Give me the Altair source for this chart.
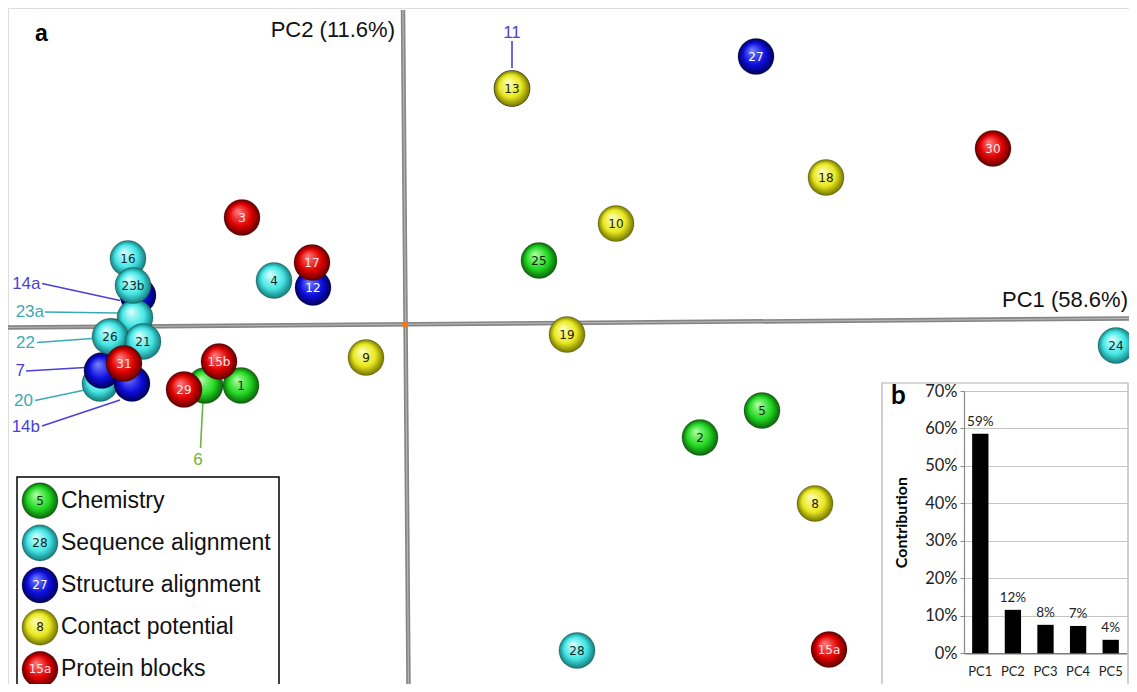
import altair as alt
import pandas as pd

# ---------------- data ----------------
group_names = ["Chemistry", "Sequence alignment", "Structure alignment",
               "Contact potential", "Protein blocks"]
legend_nums = ["5", "28", "27", "8", "15a"]

# drawing order = back to front
ids = ["11", "22", "14a", "20", "7", "14b", "6", "16", "23a", "23b",
       "26", "21", "31", "1", "29", "15b", "4", "12", "17", "3",
       "9", "13", "27", "30", "18", "10", "25", "19", "24", "5",
       "2", "8", "28", "15a"]
groups = ["Structure alignment", "Sequence alignment", "Structure alignment",
          "Sequence alignment", "Structure alignment", "Structure alignment",
          "Chemistry", "Sequence alignment", "Sequence alignment",
          "Sequence alignment", "Sequence alignment", "Sequence alignment",
          "Protein blocks", "Chemistry", "Protein blocks", "Protein blocks",
          "Sequence alignment", "Structure alignment", "Protein blocks",
          "Protein blocks", "Contact potential", "Contact potential",
          "Structure alignment", "Protein blocks", "Contact potential",
          "Contact potential", "Chemistry", "Contact potential",
          "Sequence alignment", "Chemistry", "Chemistry", "Contact potential",
          "Sequence alignment", "Protein blocks"]
pc1 = [1.07, -2.93, -2.67, -3.05, -3.03, -2.73, -2.00, -2.77, -2.70, -2.72,
       -2.95, -2.62, -2.81, -1.64, -2.21, -1.86, -1.31, -0.92, -0.93, -1.63,
       -0.39, 1.07, 3.51, 5.88, 4.21, 2.11, 1.34, 1.62, 7.11, 3.57,
       2.95, 4.10, 1.72, 4.24]
pc2 = [2.36, -0.12, 0.29, -0.59, -0.46, -0.59, -0.61, 0.66, 0.07, 0.39,
       -0.12, -0.17, -0.39, -0.61, -0.65, -0.37, 0.44, 0.37, 0.62, 1.07,
       -0.33, 2.36, 2.68, 1.76, 1.47, 1.01, 0.64, -0.10, -0.21, -0.86,
       -1.13, -1.79, -3.26, -3.25]

# call-out labels for hidden spheres
lead_ids = ["14a", "23a", "22", "7", "20", "14b", "6", "11"]
lead_groups = ["Structure alignment", "Sequence alignment", "Sequence alignment",
               "Structure alignment", "Sequence alignment", "Structure alignment",
               "Chemistry", "Structure alignment"]
lead_label_x = [-3.645, -3.61, -3.70, -3.80, -3.72, -3.65, -2.07, 1.07]
lead_label_y = [0.41, 0.13, -0.18, -0.465, -0.765, -1.02, -1.355, 2.92]
lead_x1 = [-3.63, -3.60, -3.68, -3.79, -3.70, -3.63, -2.045, 1.07]
lead_y1 = [0.41, 0.125, -0.18, -0.465, -0.76, -1.015, -1.235, 2.835]
lead_x2 = [-2.85, -2.87, -3.13, -3.20, -3.20, -2.85, -2.02, 1.07]
lead_y2 = [0.24, 0.115, -0.14, -0.43, -0.655, -0.755, -0.755, 2.565]
lead_side = ["left", "left", "left", "left", "left", "left", "mid", "mid"]

# inset: contribution of each component
pcs = ["PC1", "PC2", "PC3", "PC4", "PC5"]
contrib = [58.6, 11.6, 7.6, 7.3, 3.6]
contrib_labels = ["59%", "12%", "8%", "7%", "4%"]
contrib_ticks = [0, 10, 20, 30, 40, 50, 60, 70]

# ---------------- styling ----------------
main_c = ["#22d822", "#45e6e6", "#0d0ddc", "#e8e820", "#e00000"]
light_c = ["#b4ffa8", "#e0ffff", "#7884ff", "#ffffc0", "#ff8080"]
dark_c = ["#0b620b", "#147a7a", "#000058", "#747400", "#600000"]
num_c = ["#0b2a0b", "#0b2a2a", "#ffffff", "#222200", "#ffe8e8"]
lead_c = ["#6db33f", "#3aabb5", "#4b3fd9", "#999900", "#cc0000"]


def grad_js(light, main, dark):
    return ("{gradient:'radial',x1:0.38,y1:0.32,r1:0,x2:0.5,y2:0.5,r2:0.5,"
            "stops:[{offset:0,color:'" + light + "'},{offset:0.62,color:'" + main +
            "'},{offset:1,color:'" + dark + "'}]}")


GRAD = ""
for g, l, m, d in zip(group_names, light_c, main_c, dark_c):
    GRAD += "datum.grp==='" + g + "' ? " + grad_js(l, m, d) + " : "
GRAD += "'gray'"

W, H = 1121, 676
SPH = 1300

pts = pd.DataFrame({"id": ids, "grp": groups, "pc1": pc1, "pc2": pc2,
                    "ord": list(range(len(ids)))})
pts["inner"] = ~pts["id"].isin(lead_ids)
lead = pd.DataFrame({"id": lead_ids, "grp": lead_groups, "lx": lead_label_x,
                     "ly": lead_label_y, "x1": lead_x1, "y1": lead_y1,
                     "x2": lead_x2, "y2": lead_y2, "side": lead_side})
axes_df = pd.DataFrame({"x": [-3.97, -0.02], "x2": [7.24, 0.035],
                        "y": [-0.03, 3.145], "y2": [0.061, -3.595]})
origin = pd.DataFrame({"x": [0.0], "y": [0.0]})
one = pd.DataFrame({"k": [0]})

xs = alt.Scale(domain=[-3.97, 7.24], nice=False, zero=False)
ys = alt.Scale(domain=[-3.595, 3.165], nice=False, zero=False)

axis_thick = alt.Chart(axes_df).mark_rule(color="#858585", strokeWidth=4.5).encode(
    x=alt.X("x:Q", scale=xs, axis=None), x2="x2:Q",
    y=alt.Y("y:Q", scale=ys, axis=None), y2="y2:Q")
axis_thin = alt.Chart(axes_df).mark_rule(color="#b5b5b5", strokeWidth=1.2).encode(
    x=alt.X("x:Q", scale=xs, axis=None), x2="x2:Q",
    y=alt.Y("y:Q", scale=ys, axis=None), y2="y2:Q")
origin_pt = alt.Chart(origin).mark_circle(size=35, color="#f07820", opacity=1).encode(
    x=alt.X("x:Q", scale=xs, axis=None), y=alt.Y("y:Q", scale=ys, axis=None))

lead_scale = alt.Scale(domain=group_names, range=lead_c)
lead_lines = alt.Chart(lead).mark_rule(strokeWidth=1.6).encode(
    x=alt.X("x1:Q", scale=xs, axis=None), x2="x2:Q",
    y=alt.Y("y1:Q", scale=ys, axis=None), y2="y2:Q",
    stroke=alt.Stroke("grp:N", scale=lead_scale, legend=None))

spheres = alt.Chart(pts).transform_calculate(grad=GRAD).mark_circle(
    size=SPH, opacity=1, stroke="#000000", strokeOpacity=0.2, strokeWidth=1).encode(
    x=alt.X("pc1:Q", scale=xs, axis=None),
    y=alt.Y("pc2:Q", scale=ys, axis=None),
    fill=alt.Fill("grad:N", scale=None),
    order=alt.Order("ord:Q"))

nums = alt.Chart(pts).transform_filter(alt.datum.inner).mark_text(
    font="DejaVu Sans", fontSize=12, baseline="middle", align="center").encode(
    x=alt.X("pc1:Q", scale=xs, axis=None),
    y=alt.Y("pc2:Q", scale=ys, axis=None),
    text="id:N",
    color=alt.Color("grp:N", scale=alt.Scale(domain=group_names, range=num_c), legend=None))

lead_text_l = alt.Chart(lead).transform_filter(alt.datum.side == "left").mark_text(
    font="Liberation Sans", fontSize=17, align="right", baseline="middle").encode(
    x=alt.X("lx:Q", scale=xs, axis=None), y=alt.Y("ly:Q", scale=ys, axis=None),
    text="id:N", fill=alt.Fill("grp:N", scale=lead_scale, legend=None))
lead_text_m = alt.Chart(lead).transform_filter(alt.datum.side == "mid").mark_text(
    font="Liberation Sans", fontSize=17, align="center", baseline="middle").encode(
    x=alt.X("lx:Q", scale=xs, axis=None), y=alt.Y("ly:Q", scale=ys, axis=None),
    text="id:N", fill=alt.Fill("grp:N", scale=lead_scale, legend=None))

pc2_title = alt.Chart(one).mark_text(font="Liberation Sans", fontSize=22, align="right",
                                     baseline="middle", color="#111", text="PC2 (11.6%)").encode(
    x=alt.value(387), y=alt.value(22))
pc1_title = alt.Chart(one).mark_text(font="Liberation Sans", fontSize=22, align="right",
                                     baseline="middle", color="#111", text="PC1 (58.6%)").encode(
    x=alt.value(1120), y=alt.value(292))
a_label = alt.Chart(one).mark_text(font="Liberation Sans", fontSize=23, fontWeight="bold",
                                   align="left", baseline="middle", color="#000", text="a").encode(
    x=alt.value(27), y=alt.value(26))

main = alt.layer(axis_thick, axis_thin, origin_pt, lead_lines, spheres, nums,
                 lead_text_l, lead_text_m, pc2_title, pc1_title, a_label).resolve_scale(
    color="independent", fill="independent", stroke="independent")

# ---------------- inset b ----------------
bars_df = pd.DataFrame({"pc": pcs, "val": contrib, "lab": contrib_labels})
bx = alt.Scale(type="band", domain=pcs, range=[956, 1119], paddingInner=0.5, paddingOuter=0.25)
by = alt.Scale(domain=[0, 70], range=[645.3, 383], nice=False, zero=True)
IFONT = "Lato"
bars = alt.Chart(bars_df).mark_bar(color="#000000").encode(
    x=alt.X("pc:N", scale=bx, sort=pcs,
            axis=alt.Axis(orient="bottom", offset=-(H - 645.3), title=None, ticks=False,
                          labelFontSize=13, labelFont=IFONT, labelColor="#222",
                          labelPadding=12, labelAngle=0, domainColor="#7a7a7a",
                          domainWidth=1.5, grid=False)),
    y=alt.Y("val:Q", scale=by,
            axis=alt.Axis(orient="left", offset=-956, values=contrib_ticks,
                          labelExpr="datum.value + '%'", grid=True, gridColor="#c4c4c4",
                          gridWidth=1, tickSize=4, tickColor="#8a8a8a",
                          domainColor="#8a8a8a", domainWidth=1.2, labelFont=IFONT,
                          labelFontSize=16.5, labelColor="#222", labelPadding=3,
                          title="Contribution", titleFont=IFONT, titleFontSize=16,
                          titleFontWeight="bold", titleColor="#000", titleX=-63,
                          titleBaseline="middle")))
bar_text = alt.Chart(bars_df).mark_text(font=IFONT, fontSize=13.5, baseline="bottom",
                                        dy=-5, color="#222").encode(
    x=alt.X("pc:N", scale=bx, sort=pcs), y=alt.Y("val:Q", scale=by), text="lab:N")
inset_box = alt.Chart(one).mark_rect(fillOpacity=0, stroke="#b0b0b0", strokeWidth=1.2).encode(
    x=alt.value(874), x2=alt.value(1120), y=alt.value(375), y2=alt.value(682))
b_label = alt.Chart(one).mark_text(font=IFONT, fontSize=26, fontWeight="bold", align="left",
                                   baseline="middle", color="#000", text="b").encode(
    x=alt.value(883), y=alt.value(388))
inset = alt.layer(inset_box, bars, bar_text, b_label)

# ---------------- legend ----------------
leg_df = pd.DataFrame({"grp": group_names, "num": legend_nums})
ly = alt.Scale(type="point", domain=group_names, range=[492.7, 661.3], padding=0)
leg_box = alt.Chart(one).mark_rect(fillOpacity=0, stroke="#000", strokeWidth=1.5).encode(
    x=alt.value(9), x2=alt.value(271), y=alt.value(469), y2=alt.value(682))
leg_sph = alt.Chart(leg_df).transform_calculate(grad=GRAD).mark_circle(
    size=SPH, opacity=1, stroke="#000000", strokeOpacity=0.2, strokeWidth=1).encode(
    x=alt.value(32), y=alt.Y("grp:N", scale=ly, sort=group_names, axis=None),
    fill=alt.Fill("grad:N", scale=None))
leg_num = alt.Chart(leg_df).mark_text(font="DejaVu Sans", fontSize=12, baseline="middle").encode(
    x=alt.value(32), y=alt.Y("grp:N", scale=ly, sort=group_names, axis=None), text="num:N",
    color=alt.Color("grp:N", scale=alt.Scale(domain=group_names, range=num_c), legend=None))
leg_lab = alt.Chart(leg_df).mark_text(font="Liberation Sans", fontSize=23, align="left",
                                      baseline="middle", color="#111").encode(
    x=alt.value(53), y=alt.Y("grp:N", scale=ly, sort=group_names, axis=None), text="grp:N")
legend = alt.layer(leg_box, leg_sph, leg_num, leg_lab)

chart = alt.layer(main, inset, legend).resolve_scale(
    x="independent", y="independent", color="independent").resolve_axis(
    x="independent", y="independent").properties(
    width=W, height=H, padding=0, autosize=alt.AutoSizeParams(type="none")
).configure_view(strokeWidth=0).configure(background="white")

chart.save("out.html", embed_options={"renderer": "svg", "actions": False})
